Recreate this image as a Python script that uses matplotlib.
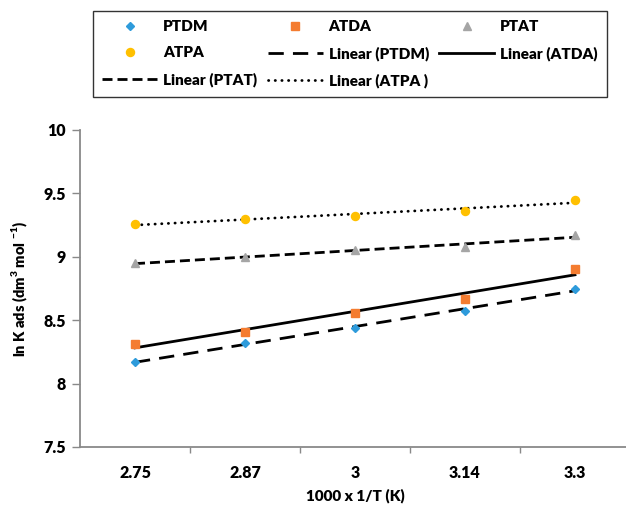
import numpy as np
import matplotlib
matplotlib.use('Agg')
import matplotlib.pyplot as plt

plt.rcParams['font.family'] = ['Lato', 'DejaVu Sans']
plt.rcParams['font.weight'] = 'heavy'
plt.rcParams['axes.labelweight'] = 'heavy'
plt.rcParams['mathtext.fontset'] = 'custom'
plt.rcParams['mathtext.rm'] = 'Lato:heavy'
plt.rcParams['mathtext.bf'] = 'Lato:heavy'

# data (category axis)
temps = ['2.75', '2.87', '3', '3.14', '3.3']
ptdm = [8.17, 8.32, 8.44, 8.57, 8.75]
atda = [8.31, 8.41, 8.56, 8.67, 8.90]
ptat = [8.95, 9.00, 9.05, 9.08, 9.17]
atpa = [9.26, 9.30, 9.32, 9.36, 9.45]

names = ['PTDM', 'ATDA', 'PTAT', 'ATPA']
series = [ptdm, atda, ptat, atpa]
colors = ['#2E9BDB', '#F47C30', '#A5A5A5', '#FFC000']
markers = ['D', 's', '^', 'o']
msizes = [4.2, 5.2, 5.2, 5.8]
dot = (0, (0.1, 2.3))
fit_styles = [(0, (5.5, 3.3)), '-', (0, (3.6, 1.8)), dot]
fit_names = ['Linear (PTDM)', 'Linear (ATDA)', 'Linear (PTAT)', 'Linear (ATPA )']

fig = plt.figure(figsize=(6.26, 5.05), dpi=100)
ax = fig.add_axes([80/626, 1-447/505, 550/626, 317/505])

x = np.arange(len(temps))
pts = []
fits = []
for y, c, m, ms, n in zip(series, colors, markers, msizes, names):
    h, = ax.plot(x, y, linestyle='none', marker=m, color=c, markersize=ms, label=n, zorder=3)
    pts.append(h)
for y, ls, n in zip(series, fit_styles, fit_names):
    k, b = np.polyfit(x, y, 1)
    cap = 'round' if ls == dot else 'butt'
    h, = ax.plot(x, k*x+b, color='black', linestyle=ls, linewidth=2.0,
                 dash_capstyle=cap, label=n, zorder=2)
    fits.append(h)

ax.set_xlim(-0.5, 4.5)
ax.set_ylim(7.5, 10)
ax.set_yticks([7.5, 8, 8.5, 9, 9.5, 10])
ax.set_yticklabels(['7.5', '8', '8.5', '9', '9.5', '10'])
ax.set_xticks(x)
ax.set_xticklabels(temps)
ax.set_xticks([0.5, 1.5, 2.5, 3.5], minor=True)
ax.tick_params(axis='x', which='major', length=0, pad=13, labelsize=11.5)
ax.tick_params(axis='x', which='minor', length=4, color='#898989', width=1)
ax.tick_params(axis='y', length=6, color='#898989', width=1, pad=4, labelsize=11.5)
for s in ['top', 'right']:
    ax.spines[s].set_visible(False)
for s in ['left', 'bottom']:
    ax.spines[s].set_color('#898989')
    ax.spines[s].set_linewidth(1.3)

ax.set_xlabel('1000 x 1/T (K)', fontsize=11, fontweight='heavy', labelpad=5)
ax.set_ylabel(r'ln K ads (dm$^{3}$ mol $^{-1}$)', fontsize=10.5, fontweight='heavy', labelpad=10)

# legend: 3 columns, filled column-wise
order = [pts[0], pts[3], fits[2], pts[1], fits[0], fits[3], pts[2], fits[1]]
leg = fig.legend(handles=order, labels=[h.get_label() for h in order],
                 ncol=3, loc='upper left', mode='expand',
                 bbox_to_anchor=(93/626, 1-95/505, 514/626, 84/505),
                 frameon=True, fancybox=False, edgecolor='black',
                 fontsize=11, handlelength=3.6, handletextpad=0.4,
                 labelspacing=0.85, borderpad=0.6, borderaxespad=0)
leg.get_frame().set_linewidth(1.0)

fig.savefig('out.png', dpi=100)
